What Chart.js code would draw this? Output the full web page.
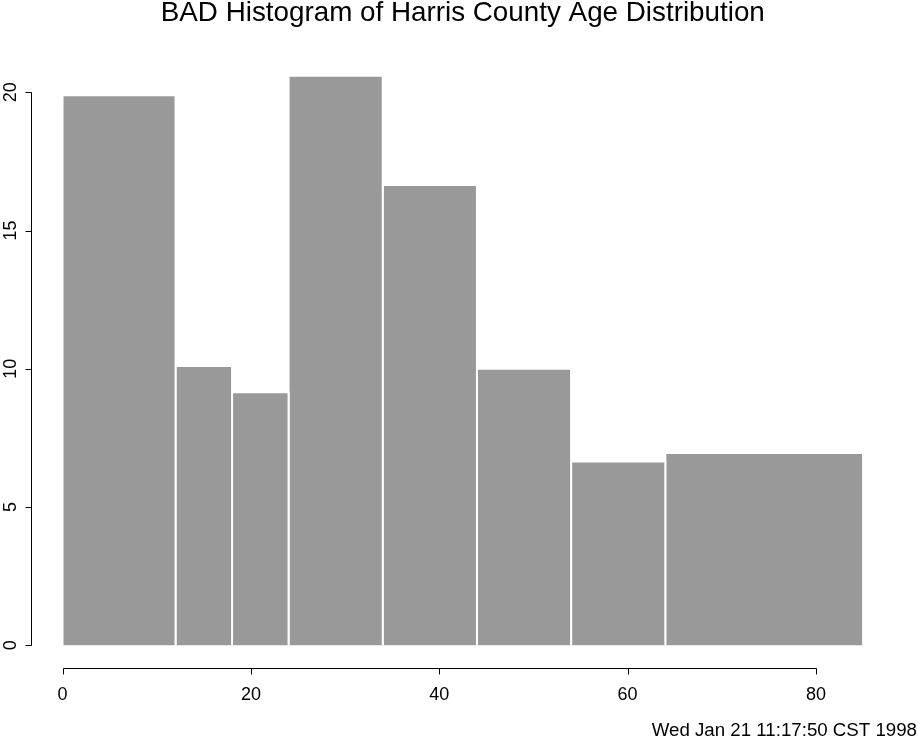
<!DOCTYPE html>
<html>
<head>
<meta charset="utf-8">
<title>BAD Histogram of Harris County Age Distribution</title>
<script src="https://cdn.jsdelivr.net/npm/chart.js@4/dist/chart.umd.min.js"></script>
<style>
  html, body { margin: 0; padding: 0; background: #ffffff; }
  #chart { display: block; }
</style>
</head>
<body>
<canvas id="chart" width="918" height="746"></canvas>
<script>
// histogram bins (age) and bar heights
const binEdges = [0, 12, 18, 24, 34, 44, 54, 64, 85];
const binHeights = [19.9, 10.1, 9.15, 20.6, 16.65, 10.0, 6.65, 6.95];

// axis ticks
const xTicks = [0, 20, 40, 60, 80];
const yTicks = [0, 5, 10, 15, 20];

const titleText = "BAD Histogram of Harris County Age Distribution";
const dateText = "Wed Jan 21 11:17:50 CST 1998";

const fontFamily = '"Liberation Sans", Arial, Helvetica, sans-serif';

// one step shape per bin
const binDatasets = binHeights.map((h, i) => ({
  data: [
    { x: binEdges[i], y: 0 },
    { x: binEdges[i], y: h },
    { x: binEdges[i + 1], y: h },
    { x: binEdges[i + 1], y: 0 }
  ],
  backgroundColor: "#999999",
  borderColor: "#ffffff",
  borderWidth: 2,
  fill: "origin",
  pointRadius: 0,
  tension: 0
}));

// R style axes, title and date stamp
const rAxes = {
  id: "rAxes",
  afterDraw(chart) {
    const ctx = chart.ctx;
    const xs = chart.scales.x;
    const ys = chart.scales.y;
    const area = chart.chartArea;
    const axX = Math.round(area.left) + 0.5;
    const axY = Math.round(area.bottom) + 0.5;

    ctx.save();
    ctx.strokeStyle = "#000000";
    ctx.lineWidth = 1;
    ctx.fillStyle = "#000000";

    // y axis
    const y0 = Math.round(ys.getPixelForValue(yTicks[0])) + 0.5;
    const y1 = Math.round(ys.getPixelForValue(yTicks[yTicks.length - 1])) + 0.5;
    ctx.beginPath();
    ctx.moveTo(axX, y0);
    ctx.lineTo(axX, y1);
    yTicks.forEach(t => {
      const py = Math.round(ys.getPixelForValue(t)) + 0.5;
      ctx.moveTo(axX, py);
      ctx.lineTo(axX - 6, py);
    });
    ctx.stroke();

    ctx.font = "18px " + fontFamily;
    ctx.textAlign = "center";
    ctx.textBaseline = "alphabetic";
    yTicks.forEach(t => {
      const py = ys.getPixelForValue(t);
      ctx.save();
      ctx.translate(15.5, py);
      ctx.rotate(-Math.PI / 2);
      ctx.fillText(String(t), 0, 0);
      ctx.restore();
    });

    // x axis
    const x0 = Math.round(xs.getPixelForValue(xTicks[0])) + 0.5;
    const x1 = Math.round(xs.getPixelForValue(xTicks[xTicks.length - 1])) + 0.5;
    ctx.beginPath();
    ctx.moveTo(x0, axY);
    ctx.lineTo(x1, axY);
    xTicks.forEach(t => {
      const px = Math.round(xs.getPixelForValue(t)) + 0.5;
      ctx.moveTo(px, axY);
      ctx.lineTo(px, axY + 6);
    });
    ctx.stroke();

    xTicks.forEach(t => {
      ctx.fillText(String(t), xs.getPixelForValue(t), 700);
    });

    // title
    ctx.font = "27.8px " + fontFamily;
    ctx.fillText(titleText, (area.left + area.right) / 2, 20.5);

    // date stamp
    ctx.font = "18.7px " + fontFamily;
    ctx.textAlign = "right";
    ctx.fillText(dateText, 917, 736);

    ctx.restore();
  }
};

new Chart(document.getElementById("chart"), {
  type: "line",
  data: { datasets: binDatasets },
  options: {
    responsive: false,
    devicePixelRatio: 1,
    animation: false,
    layout: { padding: { left: 30.5, right: 22.9, top: 53, bottom: 78 } },
    scales: {
      x: { type: "linear", min: -3.4, max: 88.4, display: false },
      y: { type: "linear", min: -0.824, max: 21.424, display: false }
    },
    plugins: {
      legend: { display: false },
      tooltip: { enabled: false },
      title: { display: false }
    }
  },
  plugins: [rAxes]
});
</script>
</body>
</html>
